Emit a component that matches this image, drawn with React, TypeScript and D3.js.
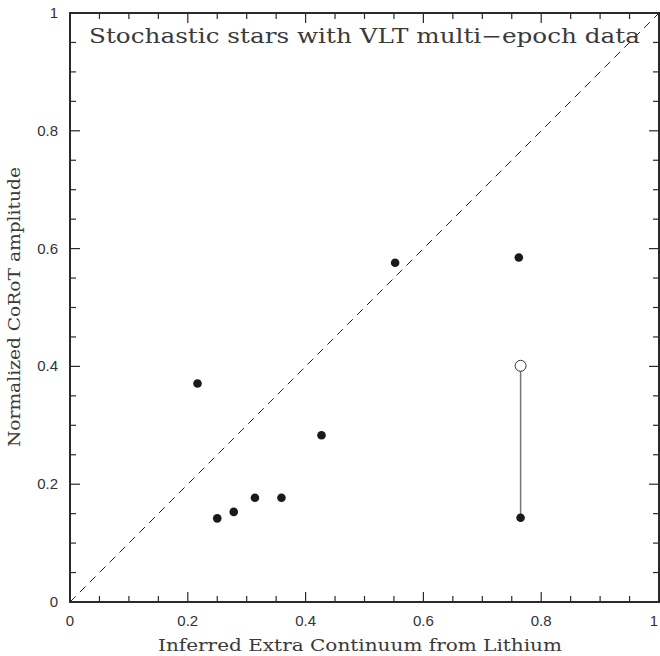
import React from "react";
import * as d3 from "d3";

const filledX = [0.2165, 0.25, 0.278, 0.314, 0.359, 0.427, 0.552, 0.762, 0.765];
const filledY = [0.371, 0.142, 0.153, 0.177, 0.177, 0.283, 0.576, 0.585, 0.143];
const openX = [0.765];
const openY = [0.401];
const segX = [0.765, 0.765];
const segY = [0.143, 0.401];
const majorTicks = [0, 0.2, 0.4, 0.6, 0.8, 1];
const tickLabels = ["0", "0.2", "0.4", "0.6", "0.8", "1"];
const minorTicks = d3.range(0, 1.0001, 0.05);

export default function App() {
  const W = 660, H = 656;
  const L = 70, R = 659, T = 13, B = 602;
  const x = d3.scaleLinear().domain([0, 1]).range([L, R]);
  const y = d3.scaleLinear().domain([0, 1]).range([B, T]);
  const ax = "#2a2a2a";
  const sans = "'Liberation Sans', Arial, sans-serif";
  const serif = "'DejaVu Serif', 'Liberation Serif', serif";
  const line = d3.line<number>().x((_, i) => x(segX[i])).y((_, i) => y(segY[i]));
  return (
    <svg width={W} height={H} style={{ position: "absolute", left: 0, top: 0, background: "#fff" }}>
      <line x1={x(0)} y1={y(0)} x2={x(1)} y2={y(1)} stroke="#222" strokeWidth={1} strokeDasharray="8,6" />
      {minorTicks.map((t, i) => {
        const isMajor = Math.abs(t * 5 - Math.round(t * 5)) < 1e-6;
        const len = isMajor ? 10 : 6;
        return (
          <g key={i} stroke={ax} strokeWidth={1.2}>
            <line x1={x(t)} x2={x(t)} y1={B} y2={B - len} />
            <line x1={x(t)} x2={x(t)} y1={T} y2={T + len} />
            <line x1={L} x2={L + len} y1={y(t)} y2={y(t)} />
            <line x1={R} x2={R - len} y1={y(t)} y2={y(t)} />
          </g>
        );
      })}
      <rect x={L} y={T} width={R - L} height={B - T} fill="none" stroke={ax} strokeWidth={2} />
      {majorTicks.map((t, i) => (
        <text key={"x" + i} x={Math.min(x(t), 654)} y={626} textAnchor="middle" fontFamily={sans} fontSize={15} fill="#333">
          {tickLabels[i]}
        </text>
      ))}
      {majorTicks.map((t, i) => (
        <text key={"y" + i} x={58} y={y(t) + 5} textAnchor="end" fontFamily={sans} fontSize={15} fill="#333">
          {tickLabels[i]}
        </text>
      ))}
      <path d={line(segX) || ""} stroke="#777" strokeWidth={1.5} fill="none" />
      {filledX.map((v, i) => (
        <circle key={"f" + i} cx={x(v)} cy={y(filledY[i])} r={4.3} fill="#1a1a1a" />
      ))}
      {openX.map((v, i) => (
        <circle key={"o" + i} cx={x(v)} cy={y(openY[i])} r={5.5} fill="#fff" stroke="#333" strokeWidth={1} />
      ))}
      <text x={89} y={43} fontFamily={serif} fontSize={20} fill="#3a3a3a" textLength={551} lengthAdjust="spacingAndGlyphs">
        Stochastic stars with VLT multi−epoch data
      </text>
      <text x={158} y={651} fontFamily={serif} fontSize={16} fill="#3a3a3a" textLength={404} lengthAdjust="spacingAndGlyphs">
        Inferred Extra Continuum from Lithium
      </text>
      <text transform="translate(20,447) rotate(-90)" x={0} y={0} fontFamily={serif} fontSize={16} fill="#3a3a3a" textLength={280} lengthAdjust="spacingAndGlyphs">
        Normalized CoRoT amplitude
      </text>
    </svg>
  );
}
